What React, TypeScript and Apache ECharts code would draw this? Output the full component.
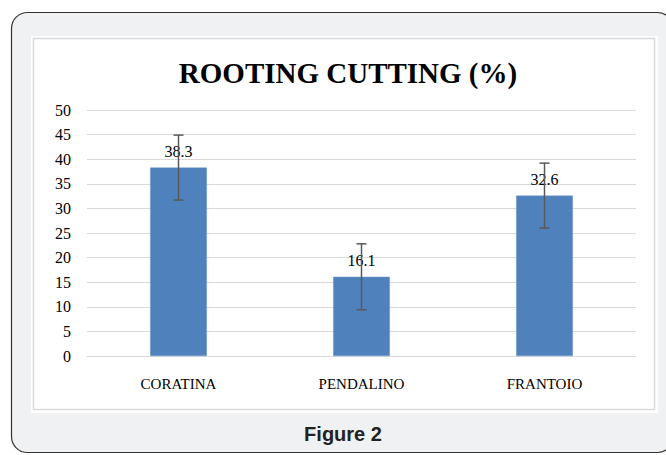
import React, { useEffect, useRef } from "react";
import * as echarts from "echarts";

const categories = ["CORATINA", "PENDALINO", "FRANTOIO"];
const values = [38.3, 16.1, 32.6];
const errors = [6.6, 6.7, 6.6];
const yTicks = { min: 0, max: 50, interval: 5 };

export default function App() {
  const ref = useRef<HTMLDivElement>(null);
  useEffect(() => {
    if (!ref.current) return;
    const chart = echarts.init(ref.current, null, { renderer: "svg" });
    const errData = values.map((v, i) => [i, v - errors[i], v + errors[i]]);
    chart.setOption({
      animation: false,
      graphic: [
        {
          type: "rect",
          z: -10,
          shape: { x: 11.5, y: 12.5, width: 662, height: 440, r: 16 },
          style: { fill: "#f0f1f3", stroke: "#333333", lineWidth: 1.2 },
        },
        {
          type: "rect",
          z: -9,
          shape: { x: 31, y: 36, width: 627, height: 377 },
          style: { fill: "#ffffff", stroke: null },
        },
        {
          type: "rect",
          z: -8,
          shape: { x: 33.5, y: 38.5, width: 621, height: 371 },
          style: { fill: "#ffffff", stroke: "#d9d9d9", lineWidth: 1.5 },
        },
        {
          type: "text",
          x: 343,
          y: 434,
          style: {
            text: "Figure 2",
            fill: "#222222",
            font: "bold 20px 'Liberation Sans', Arial, sans-serif",
            textAlign: "center",
            textVerticalAlign: "middle",
          },
        },
      ],
      title: {
        text: "ROOTING CUTTING (%)",
        left: 343,
        textAlign: "center",
        top: 53,
        textStyle: {
          fontFamily: "'Liberation Serif', serif",
          fontWeight: "bold",
          fontSize: 29,
          color: "#000000",
        },
      },
      grid: { left: 87, right: 30, top: 110, bottom: 99 },
      xAxis: {
        type: "category",
        data: categories,
        axisLine: { show: true, lineStyle: { color: "#d9d9d9" } },
        axisTick: { show: false },
        axisLabel: {
          margin: 20,
          color: "#000000",
          fontFamily: "'Liberation Serif', serif",
          fontSize: 15,
        },
      },
      yAxis: {
        type: "value",
        min: yTicks.min,
        max: yTicks.max,
        interval: yTicks.interval,
        axisLine: { show: false },
        axisTick: { show: false },
        axisLabel: {
          margin: 16,
          color: "#000000",
          fontFamily: "'Liberation Serif', serif",
          fontSize: 16,
        },
        splitLine: { lineStyle: { color: "#d9d9d9", width: 1 } },
      },
      series: [
        {
          type: "bar",
          data: values,
          barWidth: "31%",
          itemStyle: { color: "#4f81bd", borderColor: "#6f97c8", borderWidth: 0.5 },
          label: {
            show: true,
            position: "top",
            distance: 8,
            color: "#000000",
            fontFamily: "'Liberation Serif', serif",
            fontSize: 16,
          },
          z: 2,
        },
        {
          type: "custom",
          z: 3,
          data: errData,
          renderItem: (params: any, api: any) => {
            const x = api.value(0);
            const lo = api.coord([x, api.value(1)]);
            const hi = api.coord([x, api.value(2)]);
            const half = 5;
            const style = { stroke: "#595959", lineWidth: 1.5 };
            return {
              type: "group",
              children: [
                { type: "line", shape: { x1: lo[0], y1: lo[1], x2: hi[0], y2: hi[1] }, style },
                { type: "line", shape: { x1: lo[0] - half, y1: lo[1], x2: lo[0] + half, y2: lo[1] }, style },
                { type: "line", shape: { x1: hi[0] - half, y1: hi[1], x2: hi[0] + half, y2: hi[1] }, style },
              ],
            };
          },
        },
      ],
    });
    return () => chart.dispose();
  }, []);
  return (
    <div
      ref={ref}
      style={{ position: "fixed", left: 0, top: 0, width: 666, height: 455, background: "#ffffff" }}
    />
  );
}
